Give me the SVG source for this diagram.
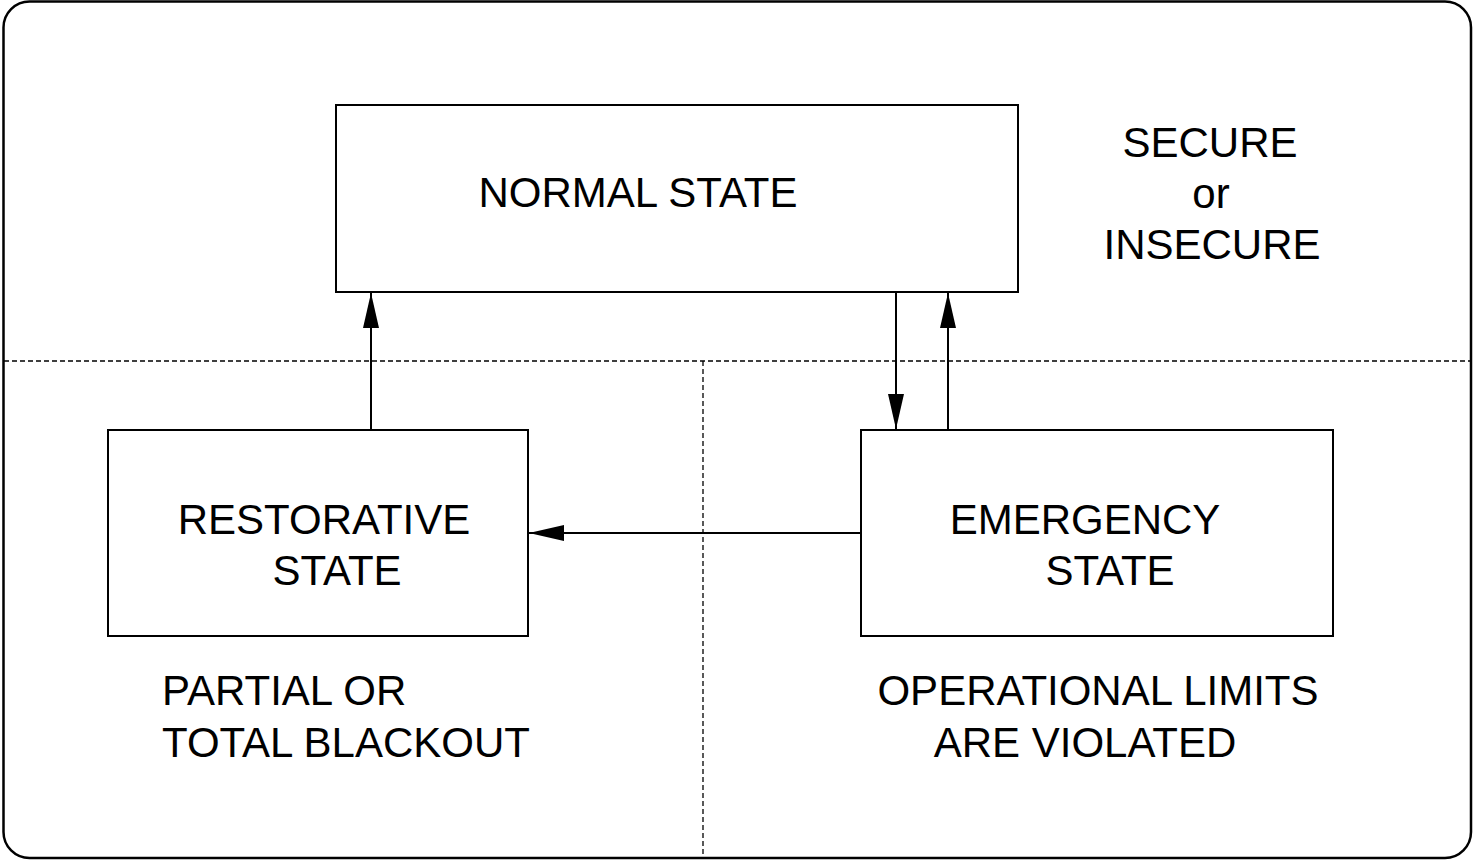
<svg xmlns="http://www.w3.org/2000/svg" width="1473" height="860" viewBox="0 0 1473 860">
<defs>
<marker id="ah" markerWidth="35" markerHeight="16" refX="35" refY="8" orient="auto" markerUnits="userSpaceOnUse">
<path d="M0,0 L35,8 L0,16 Z" fill="#000"/>
</marker>
</defs>
<style>
.box{fill:#fff;stroke:#000;stroke-width:2}
.t{font-family:"Liberation Sans",Arial,sans-serif;font-size:42px;fill:#000}
.c{stroke:#000;stroke-width:2;fill:none}
.d{stroke:#000;stroke-width:1.3;stroke-dasharray:5,3;fill:none}
</style>
<rect x="3.5" y="1.5" width="1467.5" height="856.5" rx="26" ry="26" fill="#fff" stroke="#000" stroke-width="2.5"/>
<g id="dividers">
<line class="d" x1="4" y1="361" x2="1471" y2="361"/>
<line class="d" x1="703" y1="361" x2="703" y2="858"/>
</g>
<g id="normal">
<rect class="box" x="336" y="105" width="682" height="187"/>
<text class="t" x="638" y="207" text-anchor="middle">NORMAL STATE</text>
</g>
<g id="secure-label">
<text class="t" x="1210" y="157" text-anchor="middle">SECURE</text>
<text class="t" x="1211" y="208" text-anchor="middle">or</text>
<text class="t" x="1212" y="259" text-anchor="middle">INSECURE</text>
</g>
<g id="restorative">
<rect class="box" x="108" y="430" width="420" height="206"/>
<text class="t" x="324" y="534" text-anchor="middle">RESTORATIVE</text>
<text class="t" x="337" y="585" text-anchor="middle">STATE</text>
</g>
<g id="emergency">
<rect class="box" x="861" y="430" width="472" height="206"/>
<text class="t" x="1085" y="534" text-anchor="middle">EMERGENCY</text>
<text class="t" x="1110" y="585" text-anchor="middle">STATE</text>
</g>
<g id="blackout-label">
<text class="t" x="162" y="705">PARTIAL OR</text>
<text class="t" x="162" y="757">TOTAL BLACKOUT</text>
</g>
<g id="violated-label">
<text class="t" x="1098" y="705" text-anchor="middle">OPERATIONAL LIMITS</text>
<text class="t" x="1085" y="757" text-anchor="middle">ARE VIOLATED</text>
</g>
<g id="connectors">
<line class="c" x1="371" y1="430" x2="371" y2="293" marker-end="url(#ah)"/>
<line class="c" x1="896" y1="292" x2="896" y2="429" marker-end="url(#ah)"/>
<line class="c" x1="948" y1="430" x2="948" y2="293" marker-end="url(#ah)"/>
<line class="c" x1="861" y1="533" x2="529" y2="533" marker-end="url(#ah)"/>
</g>
</svg>
